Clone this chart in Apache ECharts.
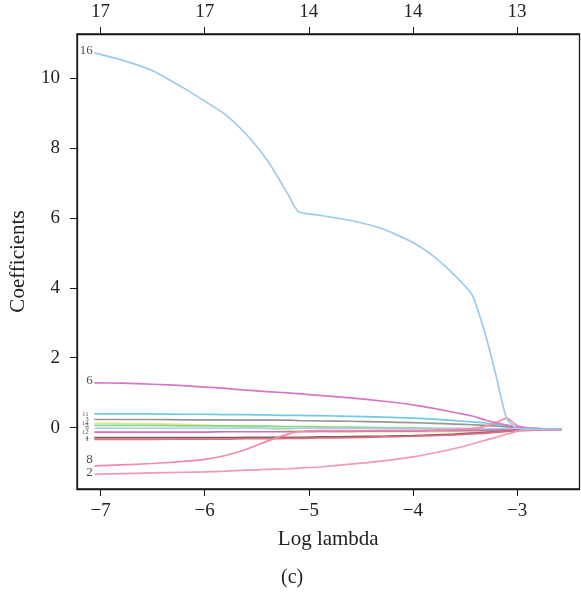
<!DOCTYPE html>
<html>
<head>
<meta charset="utf-8">
<script src="https://cdn.jsdelivr.net/npm/echarts@6/dist/echarts.min.js"></script>
<style>
  html, body { margin: 0; padding: 0; background: #fff; }
  #chart { width: 581px; height: 595px; }
</style>
</head>
<body>
<div id="chart"></div>
<script>
// log lambda grid shared by every path
var lambdas = [-7.06, -6.8, -6.5, -6.2, -6.0, -5.8, -5.6, -5.4, -5.2, -5.1, -4.9, -4.6,
               -4.3, -4.0, -3.8, -3.6, -3.43, -3.3, -3.2, -3.1, -3.0, -2.9, -2.75, -2.57];

// coefficient paths
var coef16 = [10.73, 10.53, 10.22, 9.72, 9.35, 8.96, 8.40, 7.66, 6.68, 6.18, 6.08, 5.93,
              5.70, 5.30, 4.90, 4.36, 3.79, 2.62, 1.47, 0.26, -0.02, -0.04, -0.05, -0.06];
var coef6 = [1.28, 1.27, 1.24, 1.20, 1.16, 1.12, 1.07, 1.03, 0.99, 0.97, 0.92, 0.85,
             0.76, 0.65, 0.55, 0.43, 0.33, 0.21, 0.14, 0.07, 0.01, -0.02, -0.04, -0.05];
var coef8 = [-1.10, -1.07, -1.03, -0.97, -0.91, -0.80, -0.62, -0.39, -0.19, -0.12, -0.09, -0.09,
             -0.08, -0.08, -0.07, -0.06, -0.03, 0.04, 0.14, 0.27, 0.06, -0.01, -0.04, -0.05];
var coef2 = [-1.34, -1.32, -1.30, -1.28, -1.27, -1.25, -1.22, -1.20, -1.18, -1.16, -1.13, -1.05,
             -0.96, -0.84, -0.73, -0.60, -0.47, -0.36, -0.28, -0.19, -0.11, -0.07, -0.06, -0.05];
var coefCyan = [0.39, 0.39, 0.39, 0.38, 0.38, 0.37, 0.37, 0.36, 0.35, 0.35, 0.34, 0.32,
                0.30, 0.27, 0.24, 0.20, 0.16, 0.13, 0.09, 0.06, 0.02, -0.01, -0.03, -0.05];
var coefGray = [0.23, 0.23, 0.23, 0.22, 0.22, 0.22, 0.21, 0.21, 0.21, 0.20, 0.19, 0.18,
                0.16, 0.14, 0.12, 0.10, 0.08, 0.06, 0.04, 0.02, 0.00, -0.02, -0.04, -0.05];
var coefLime = [0.13, 0.12, 0.11, 0.09, 0.07, 0.04, 0.01, -0.03, -0.07, -0.09, -0.11, -0.12,
                -0.12, -0.12, -0.12, -0.12, -0.11, -0.11, -0.10, -0.10, -0.09, -0.08, -0.07, -0.07];
var coefGreen = [0.06, 0.06, 0.06, 0.05, 0.05, 0.05, 0.04, 0.04, 0.03, 0.03, 0.02, 0.01,
                 0.00, -0.01, -0.02, -0.03, -0.03, -0.04, -0.05, -0.05, -0.06, -0.06, -0.06, -0.06];
var coefSky = [-0.02, -0.02, -0.02, -0.02, -0.02, -0.02, -0.02, -0.02, -0.02, -0.02, -0.02, -0.02,
               -0.02, -0.03, -0.03, -0.03, -0.03, -0.04, -0.04, -0.04, -0.05, -0.05, -0.05, -0.05];
var coefPurple = [-0.13, -0.13, -0.13, -0.13, -0.13, -0.12, -0.12, -0.12, -0.12, -0.12, -0.11, -0.11,
                  -0.10, -0.10, -0.09, -0.09, -0.08, -0.08, -0.07, -0.07, -0.07, -0.06, -0.06, -0.06];
var coefDark = [-0.29, -0.29, -0.29, -0.29, -0.29, -0.29, -0.28, -0.28, -0.28, -0.28, -0.27, -0.26,
                -0.25, -0.23, -0.21, -0.19, -0.16, -0.14, -0.12, -0.10, -0.08, -0.07, -0.06, -0.06];
var coefRed = [-0.34, -0.34, -0.34, -0.33, -0.33, -0.33, -0.32, -0.32, -0.31, -0.31, -0.30, -0.29,
               -0.27, -0.25, -0.23, -0.21, -0.18, -0.16, -0.13, -0.11, -0.09, -0.08, -0.07, -0.06];

// axis ticks and top labels (number of nonzero coefficients)
var xTicks = [-7, -6, -5, -4, -3];
var topLabels = ['17', '17', '14', '14', '13'];
var yTicks = [0, 2, 4, 6, 8, 10];

var paths = [
  { name: 'cyan',   data: coefCyan,   color: '#6fcbe0', label: '11', small: true },
  { name: 'gray',   data: coefGray,   color: '#9a9595', label: '3',  small: true },
  { name: 'lime',   data: coefLime,   color: '#d2ec98', label: '14', small: true },
  { name: 'green',  data: coefGreen,  color: '#8fd67e', label: '5',  small: true },
  { name: 'sky',    data: coefSky,    color: '#9fd0e8', label: '9',  small: true },
  { name: 'purple', data: coefPurple, color: '#d46cc0', label: '12', small: true },
  { name: 'dark',   data: coefDark,   color: '#6e6262', label: '4',  small: true },
  { name: 'red',    data: coefRed,    color: '#e46a7e', label: '1',  small: true },
  { name: 'p2',     data: coef2,      color: '#f39ab3', label: '2',  dy: -2 },
  { name: 'p8',     data: coef8,      color: '#f28aa6', label: '8',  dy: -6 },
  { name: 'p6',     data: coef6,      color: '#d776c8', label: '6',  dy: -2 },
  { name: 'p16',    data: coef16,     color: '#9ccbee', label: '16', dy: -2 }
];

var serif = 'Liberation Serif';
var myChart = echarts.init(document.getElementById('chart'));

var series = paths.map(function (p) {
  return {
    name: p.name,
    type: 'line',
    silent: true,
    showSymbol: false,
    symbol: 'none',
    smooth: 0.2,
    lineStyle: { color: p.color, width: 1.7 },
    data: lambdas.map(function (x, i) { return [x, p.data[i]]; })
  };
});

// labels at the left end of each path
series.push({
  type: 'scatter',
  silent: true,
  symbolSize: 1,
  itemStyle: { color: 'transparent' },
  data: paths.map(function (p) {
    return {
      value: [lambdas[0], p.data[0]],
      label: {
        show: true,
        position: 'left',
        distance: p.small ? 5 : 1,
        offset: [0, p.dy || 0],
        formatter: p.label,
        fontFamily: serif,
        fontSize: p.small ? 7 : 13,
        color: p.small ? '#333' : '#222'
      }
    };
  })
});

function minus(v) {
  return v < 0 ? '\u2212' + Math.abs(v) : String(v);
}

var option = {
  animation: false,
  backgroundColor: '#fff',
  grid: {
    left: 74, right: 1.5, top: 34, bottom: 106,
    show: true, borderColor: '#1a1a1a', borderWidth: 1.3
  },
  xAxis: [
    {
      type: 'value', position: 'bottom', min: -7.226, max: -2.40,
      axisLine: { show: true, onZero: false, lineStyle: { color: '#1a1a1a', width: 1.3 } },
      axisTick: { show: true, customValues: xTicks, length: 7, lineStyle: { color: '#1a1a1a' } },
      axisLabel: {
        customValues: xTicks, formatter: minus, margin: 13,
        fontFamily: serif, fontSize: 19, color: '#222'
      },
      splitLine: { show: false },
      name: 'Log lambda', nameLocation: 'middle', nameGap: 40,
      nameTextStyle: { fontFamily: serif, fontSize: 21, color: '#222' }
    },
    {
      type: 'value', position: 'top', min: -7.226, max: -2.40,
      axisLine: { show: true, onZero: false, lineStyle: { color: '#1a1a1a', width: 1.3 } },
      axisTick: { show: true, customValues: xTicks, length: 7, lineStyle: { color: '#1a1a1a' } },
      axisLabel: {
        customValues: xTicks, margin: 12,
        formatter: function (v) { return topLabels[xTicks.indexOf(Math.round(v))]; },
        fontFamily: serif, fontSize: 19, color: '#222'
      },
      splitLine: { show: false }
    }
  ],
  yAxis: {
    type: 'value', min: -1.76, max: 11.27,
    axisLine: { show: true, onZero: false, lineStyle: { color: '#1a1a1a', width: 1.3 } },
    axisTick: { show: true, customValues: yTicks, length: 7, lineStyle: { color: '#1a1a1a' } },
    axisLabel: {
      customValues: yTicks, formatter: minus, margin: 17,
      fontFamily: serif, fontSize: 19, color: '#222'
    },
    splitLine: { show: false },
    name: 'Coefficients', nameLocation: 'middle', nameGap: 48, nameRotate: 90,
    nameTextStyle: { fontFamily: serif, fontSize: 21, color: '#222' }
  },
  graphic: [
    {
      type: 'text', left: 281, top: 568,
      style: { text: '(c)', font: '20px "Liberation Serif"', fill: '#222' }
    }
  ],
  series: series
};

myChart.setOption(option);
</script>
</body>
</html>
